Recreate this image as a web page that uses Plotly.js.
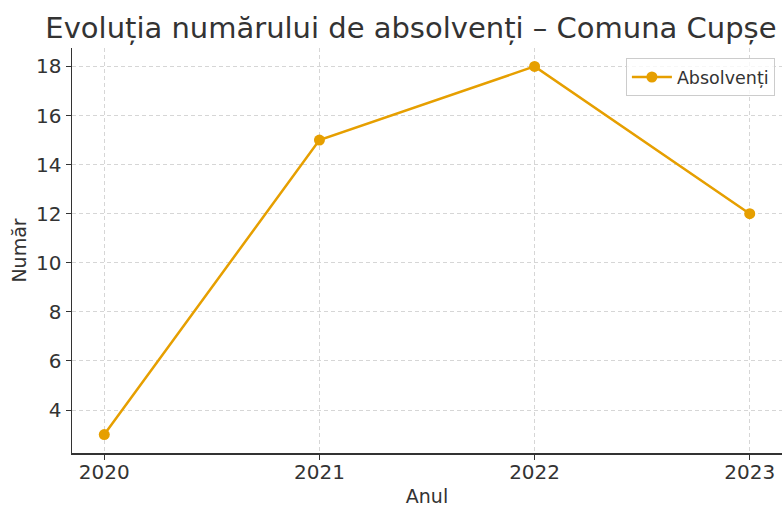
<!DOCTYPE html>
<html>
<head>
<meta charset="utf-8">
<script src="https://cdn.plot.ly/plotly-3.0.1.min.js"></script>
<style>html,body{margin:0;padding:0;background:#fff;}#chart{width:782px;height:507px;}</style>
</head>
<body>
<div id="chart"></div>
<script>
const years = [2020, 2021, 2022, 2023];
const absolventi = [3, 15, 18, 12];
const seriesName = "Absolvenți";
const yTicks = [4, 6, 8, 10, 12, 14, 16, 18];
const titleText = "Evoluția numărului de absolvenți – Comuna Cupșe";

const font = "DejaVu Sans, sans-serif";
const trace = {
  x: years, y: absolventi, name: seriesName,
  type: "scatter", mode: "lines+markers",
  line: {color: "#E69F00", width: 2.5},
  marker: {color: "#E69F00", size: 11},
  showlegend: true
};
const layout = {
  width: 782, height: 507,
  margin: {l: 72, r: 0, t: 48, b: 54},
  paper_bgcolor: "#fff", plot_bgcolor: "#fff",
  font: {family: font, color: "#333", size: 20},
  title: {text: titleText, font: {family: font, size: 29, color: "#333"},
          x: 0.058, xanchor: "left", xref: "container", y: 0.945, yanchor: "middle", yref: "container"},
  xaxis: {
    range: [2019.85, 2023.15], tickvals: years, ticktext: years.map(String),
    showgrid: true, gridcolor: "#d6d6d6", griddash: "4px,3px", gridwidth: 1,
    showline: true, linecolor: "#333", linewidth: 1.5, mirror: false,
    ticks: "outside", ticklen: 5, tickcolor: "#333", zeroline: false,
    ticklabelstandoff: -5,
    tickfont: {size: 20, color: "#333"},
    title: {text: "Anul", font: {size: 19, color: "#333"}, standoff: 10}
  },
  yaxis: {
    range: [2.25, 18.75], tickvals: yTicks,
    showgrid: true, gridcolor: "#d6d6d6", griddash: "4px,3px", gridwidth: 1,
    showline: true, linecolor: "#333", linewidth: 1.5, mirror: false,
    ticks: "outside", ticklen: 5, tickcolor: "#333", zeroline: false,
    tickfont: {size: 20, color: "#333"},
    title: {text: "Număr", font: {size: 19, color: "#333"}, standoff: 4}
  },
  legend: {x: 0.99, xanchor: "right", y: 0.975, yanchor: "top",
           bgcolor: "rgba(255,255,255,0.8)", bordercolor: "#ccc", borderwidth: 1,
           itemwidth: 40,
           font: {size: 17.5, color: "#333"}}
};
Plotly.newPlot("chart", [trace], layout, {displayModeBar: false, staticPlot: true});
</script>
</body>
</html>
